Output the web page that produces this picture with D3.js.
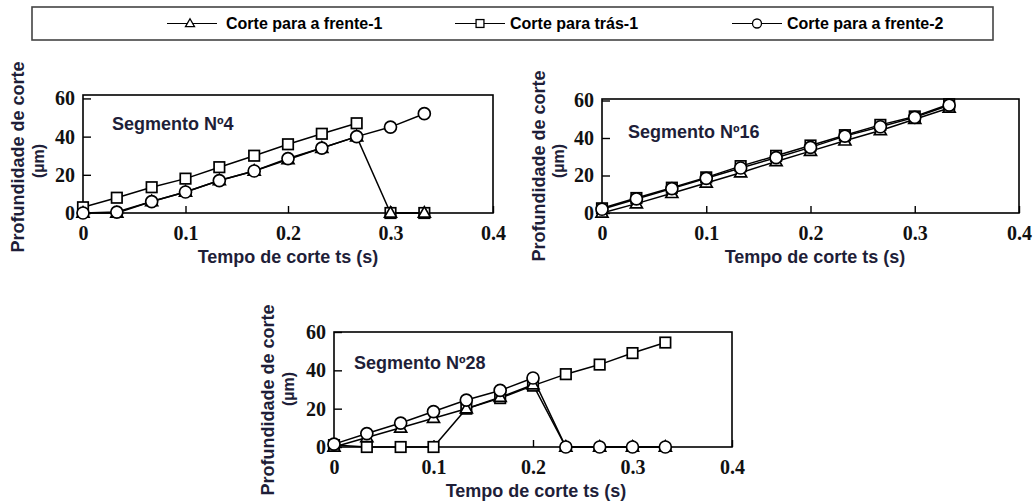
<!DOCTYPE html>
<html><head><meta charset="utf-8">
<script src="https://cdn.jsdelivr.net/npm/d3@7"></script>
<style>html,body{margin:0;padding:0;background:#fff;}svg{display:block;}</style>
</head><body>
<svg id="c" width="1033" height="502"></svg>
<script>
// ---------- data ----------
const times = [0, 0.033, 0.067, 0.1, 0.133, 0.167, 0.2, 0.233, 0.267, 0.3, 0.333];
const xTicks = [0, 0.1, 0.2, 0.3, 0.4];
const yTicks = [0, 20, 40, 60];
const seriesNames = ["Corte para a frente-1", "Corte para trás-1", "Corte para a frente-2"];
const panelTitles = ["Segmento Nº4", "Segmento Nº16", "Segmento Nº28"];
const xTitle = "Tempo de corte ts (s)";
const yTitle1 = "Profundidade de corte";
const yTitle2 = "(µm)";

// Segmento Nº4
const seg4Frente1 = [0, 0, 6, 11, 17, 22, 28, 34, 40, 0, 0];
const seg4Tras1   = [3, 8, 13.5, 18, 24, 30, 36, 41.5, 47, 0, 0];
const seg4Frente2 = [0, 0.5, 6, 11, 17, 22, 28.5, 34, 40, 45, 52];
// Segmento Nº16
const seg16Frente1 = [0, 5, 10.5, 16, 21.5, 27.5, 33, 38.5, 44, 50, 56];
const seg16Tras1   = [2.5, 8, 13.5, 19, 25, 30.5, 36, 41.5, 47, 51.5, 58];
const seg16Frente2 = [2, 7.5, 13, 18.5, 24, 29.5, 35, 41, 46, 51, 57.5];
// Segmento Nº28
const seg28Frente1 = [0, 5, 10, 15, 20, 26, 32.5, 0, 0, 0, 0];
const seg28Tras1   = [1, 0, 0, 0, 20, 25.5, 32, 38, 43, 49, 54.5];
const seg28Frente2 = [1.5, 7, 12.5, 18.5, 24.5, 29.5, 36, 0, 0, 0, 0];

// ---------- layout ----------
const panels = [
  {title: panelTitles[0], x0: 83, x1: 493, yTop: 95, yBot: 213, yMax: 61.8,
   tx: 112, ty: 130, yt: [18, 157], ym: [38, 161], xt: [288, 263],
   data: [seg4Frente1, seg4Tras1, seg4Frente2], breaks: [null, 9, null]},
  {title: panelTitles[1], x0: 602, x1: 1019, yTop: 99, yBot: 213, yMax: 60.8,
   tx: 628, ty: 138, yt: [539, 166], ym: [558, 161], xt: [815, 263],
   data: [seg16Frente1, seg16Tras1, seg16Frente2], breaks: [null, null, null]},
  {title: panelTitles[2], x0: 334, x1: 732, yTop: 332, yBot: 447, yMax: 60,
   tx: 354, ty: 369, yt: [268, 400], ym: [288, 389], xt: [536, 497],
   data: [seg28Frente1, seg28Tras1, seg28Frente2], breaks: [null, null, null]}
];

const ink = "#1e1e38";
const svg = d3.select("#c");

function drawMarker(g, kind, cx, cy, scale) {
  const k = scale || 1;
  const sw = k < 1 ? 1.3 : 1.7;
  if (kind === 0) { // triangle
    const h = 10.5 * k, w = 12 * k;
    g.append("path")
      .attr("d", `M${cx},${cy - h*0.6}L${cx + w/2},${cy + h*0.4}L${cx - w/2},${cy + h*0.4}Z`)
      .attr("fill", "#fff").attr("stroke", "#000").attr("stroke-width", sw);
  } else if (kind === 1) { // square
    const s = 10.5 * k;
    g.append("rect").attr("x", cx - s/2).attr("y", cy - s/2).attr("width", s).attr("height", s)
      .attr("fill", "#fff").attr("stroke", "#000").attr("stroke-width", sw);
  } else { // circle
    g.append("circle").attr("cx", cx).attr("cy", cy).attr("r", 6 * k)
      .attr("fill", "#fff").attr("stroke", "#000").attr("stroke-width", sw);
  }
}

panels.forEach(p => {
  const x = d3.scaleLinear().domain([0, 0.4]).range([p.x0, p.x1]);
  const y = d3.scaleLinear().domain([0, p.yMax]).range([p.yBot, p.yTop]);
  const g = svg.append("g");

  // axes
  const xa = d3.axisBottom(x).tickValues(xTicks).tickFormat(d3.format("")).tickSizeInner(-7).tickSizeOuter(0).tickPadding(13);
  const ya = d3.axisLeft(y).tickValues(yTicks).tickFormat(d3.format("")).tickSizeInner(-8).tickSizeOuter(0).tickPadding(8);
  const gx = g.append("g").attr("transform", `translate(0,${p.yBot})`).call(xa);
  const gy = g.append("g").attr("transform", `translate(${p.x0},0)`).call(ya);
  [gx, gy].forEach(a => {
    a.select(".domain").remove();
    a.selectAll("line").attr("stroke", "#000").attr("stroke-width", 1.4);
    a.selectAll("text")
      .style("font-family", '"Liberation Serif"')
      .style("font-weight", "bold").style("font-size", "20px").style("fill", "#111");
  });

  // frame
  g.append("rect").attr("x", p.x0).attr("y", p.yTop).attr("width", p.x1 - p.x0).attr("height", p.yBot - p.yTop)
    .attr("fill", "none").attr("stroke", "#000").attr("stroke-width", 1.6);

  // lines
  p.data.forEach((vals, si) => {
    const pts = times.map((t, i) => ({t, v: vals[i], i}));
    const br = p.breaks[si];
    const line = d3.line().defined(d => d.v !== null).x(d => x(d.t)).y(d => y(d.v));
    const parts = br === null ? [pts] : [pts.slice(0, br), pts.slice(br)];
    parts.forEach(part => {
      g.append("path").attr("d", line(part)).attr("fill", "none").attr("stroke", "#000").attr("stroke-width", 1.5);
    });
  });
  // markers: squares, triangles, circles
  [1, 0, 2].forEach(si => {
    const vals = p.data[si];
    times.forEach((t, i) => {
      if (vals[i] === null) return;
      drawMarker(g, si, x(t), y(vals[i]));
    });
  });

  // texts
  const sans = '"Liberation Sans"';
  const addText = (sel, size) => sel.style("font-family", sans).style("font-weight", "bold")
    .style("font-size", size + "px").style("fill", ink);
  addText(g.append("text").attr("x", p.tx).attr("y", p.ty).text(p.title), 18);
  addText(g.append("text").attr("x", p.xt[0]).attr("y", p.xt[1]).attr("text-anchor", "middle").text(xTitle), 18);
  addText(g.append("text").attr("transform", `translate(${p.yt[0]},${p.yt[1]}) rotate(-90)`).attr("dy", "0.35em")
    .attr("text-anchor", "middle").text(yTitle1), 18);
  addText(g.append("text").attr("transform", `translate(${p.ym[0]},${p.ym[1]}) rotate(-90)`).attr("dy", "0.35em")
    .attr("text-anchor", "middle").text(yTitle2), 16);
});

// legend
const lg = svg.append("g");
lg.append("rect").attr("x", 32).attr("y", 7).attr("width", 961).attr("height", 33)
  .attr("fill", "#fff").attr("stroke", "#444").attr("stroke-width", 1.6);
const legendItems = [
  {lx: 167, mx: 190, tx: 226},
  {lx: 455, mx: 480, tx: 510},
  {lx: 732, mx: 757, tx: 787}
];
legendItems.forEach((it, i) => {
  lg.append("line").attr("x1", it.lx).attr("x2", it.lx + 50).attr("y1", 23.5).attr("y2", 23.5)
    .attr("stroke", "#000").attr("stroke-width", 1.2);
  drawMarker(lg, i, it.mx, 23.5, 0.75);
  lg.append("text").attr("x", it.tx).attr("y", 29).text(seriesNames[i])
    .style("font-family", '"Liberation Sans"').style("font-weight", "bold")
    .style("font-size", "16px").style("fill", "#000");
});
</script>
</body></html>
